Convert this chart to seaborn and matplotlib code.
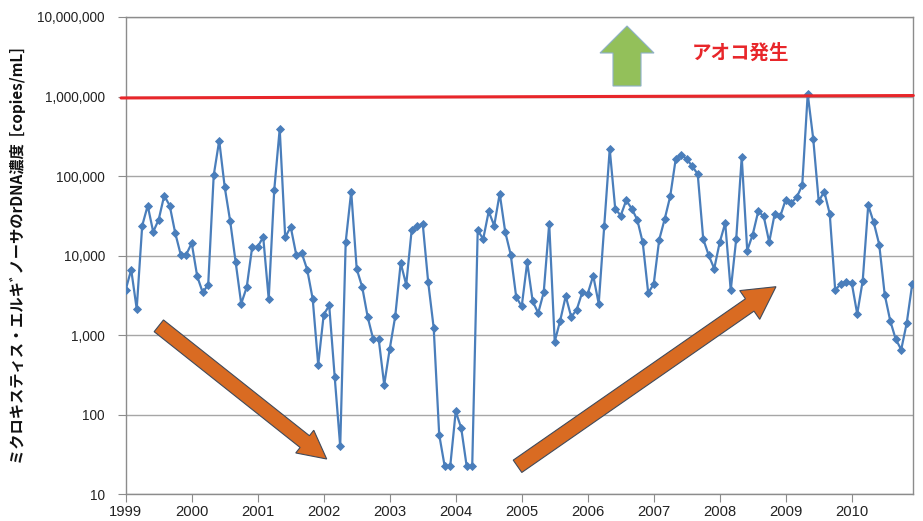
import numpy as np
import pandas as pd
import seaborn as sns
import matplotlib.pyplot as plt
from matplotlib.patches import Polygon

# monthly rDNA concentration, Jan 1999 - Dec 2010 (copies/mL)
c1999 = [3730, 6670, 2140, 23800, 42600, 19900, 28400, 56900, 42600, 19300, 10300, 10300]
c2000 = [14400, 5500, 3450, 4310, 102000, 280000, 73000, 27000, 8240, 2490, 4000, 12900]
c2001 = [12900, 17200, 2850, 66000, 393000, 17000, 23000, 10300, 10800, 6670, 2850, 426]
c2002 = [1810, 2370, 298, 40, 14900, 64000, 6800, 4030, 1690, 890, 890, 238]
c2003 = [670, 1720, 8090, 4310, 21200, 23400, 25300, 4620, 1230, 56, 22.4, 22.4]
c2004 = [110, 68, 22.4, 22.4, 20800, 16200, 36000, 23800, 60300, 19900, 10300, 3020]
c2005 = [2300, 8240, 2660, 1900, 3450, 25300, 830, 1530, 3100, 1700, 2090, 3450]
c2006 = [3320, 5600, 2490, 23800, 219000, 39000, 31800, 49600, 39000, 28400, 14700, 3390]
c2007 = [4400, 15900, 28900, 55700, 164000, 186000, 164000, 133000, 106000, 16200, 10100, 6860]
c2008 = [14700, 25700, 3660, 16200, 173000, 11600, 18400, 36000, 31200, 14800, 33700, 31200]
c2009 = [50600, 46000, 54100, 76600, 1080000, 295000, 48200, 64000, 33700, 3660, 4450, 4670]
c2010 = [4540, 1850, 4850, 42900, 26200, 13800, 3230, 1520, 890, 660, 1420, 4400]

years = list(range(1999, 2011))
ytick_vals = [10, 100, 1000, 10000, 100000, 1000000, 10000000]
aoko_level = [9.6e5, 1.03e6]   # hand drawn bloom line, left / right end
ylabel = "ミクロキスティス・エルキﾞノーサのrDNA濃度  [copies/mL]"
bloom_text = "アオコ発生"

values = c1999 + c2000 + c2001 + c2002 + c2003 + c2004 + c2005 + c2006 + c2007 + c2008 + c2009 + c2010
df = pd.DataFrame({
    "t": [y + m / 12 for y in years for m in range(12)],
    "copies": values,
})

W, H = 923, 521
sns.set_style("white")
plt.rcParams["font.family"] = ["Liberation Sans", "DejaVu Sans"]
fig = plt.figure(figsize=(W / 100, H / 100), dpi=100)
ax = fig.add_axes([125.7 / W, 1 - 494.3 / H, (913.3 - 125.7) / W, (494.3 - 17) / H])

blue = "#4a7ebb"
sns.lineplot(data=df, x="t", y="copies", ax=ax, color=blue, marker="D",
             markersize=4, markeredgewidth=0.6, markeredgecolor=blue,
             linewidth=1.6, estimator=None, zorder=3)

ax.set_yscale("log")
ax.set_ylim(10, 1e7)
ax.set_xlim(1999, 2010.933)
ax.set_yticks(ytick_vals)
ax.set_yticklabels([f"{v:,}" for v in ytick_vals], fontsize=9.8, color="#222222")
ax.yaxis.set_minor_locator(plt.NullLocator())
ax.set_xticks(years)
ax.set_xticklabels([str(y) for y in years], fontsize=10.6, color="#222222")
ax.tick_params(axis="y", length=6, width=0.8, color="#8c8c8c", pad=9, direction="out", left=True)
ax.tick_params(axis="x", length=6, width=0.8, color="#8c8c8c", pad=2, direction="out", bottom=True)
ax.yaxis.grid(True, color="#a6a6a6", linewidth=1)
ax.xaxis.grid(False)
for side in ["left", "bottom", "right", "top"]:
    ax.spines[side].set_color("#8c8c8c")
    ax.spines[side].set_linewidth(1)
ax.set_xlabel("")
ax.set_ylabel("")

# red bloom level
ax.plot([1998.93, 2010.933], aoko_level, color="#e8262a", linewidth=2.2, clip_on=False, zorder=4)

fig.text(18 / W, 1 - 256 / H, ylabel, rotation=90, ha="center", va="center",
         fontsize=11, fontweight="bold", color="#111111",
         family=["Noto Sans CJK JP", "DejaVu Sans"])
fig.text(740 / W, 1 - 53 / H, bloom_text, ha="center", va="center",
         fontsize=14, fontweight="bold", color="#e8262a",
         family=["Noto Sans CJK JP", "DejaVu Sans"])


def arrow(tail, tip, shaft_w, head_w, head_l, face, edge):
    tail = np.array(tail, float)
    tip = np.array(tip, float)
    d = tip - tail
    d /= np.hypot(*d)
    n = np.array([-d[1], d[0]])
    base = tip - d * head_l
    pts = [tail + n * shaft_w / 2, base + n * shaft_w / 2, base + n * head_w / 2, tip,
           base - n * head_w / 2, base - n * shaft_w / 2, tail - n * shaft_w / 2]
    pts = [(p[0] / W, 1 - p[1] / H) for p in pts]
    fig.patches.append(Polygon(pts, closed=True, facecolor=face, edgecolor=edge,
                               linewidth=0.8, transform=fig.transFigure, zorder=5))


arrow((158.8, 325.8), (326.7, 459), 15, 29, 28, "#d96b22", "#404a5a")
arrow((517.5, 466.3), (776, 286.7), 15, 35, 32, "#d96b22", "#404a5a")
arrow((627, 86), (627, 26), 28, 54, 27, "#93c05a", "#8fb0c8")

fig.savefig("out.png", dpi=100)
